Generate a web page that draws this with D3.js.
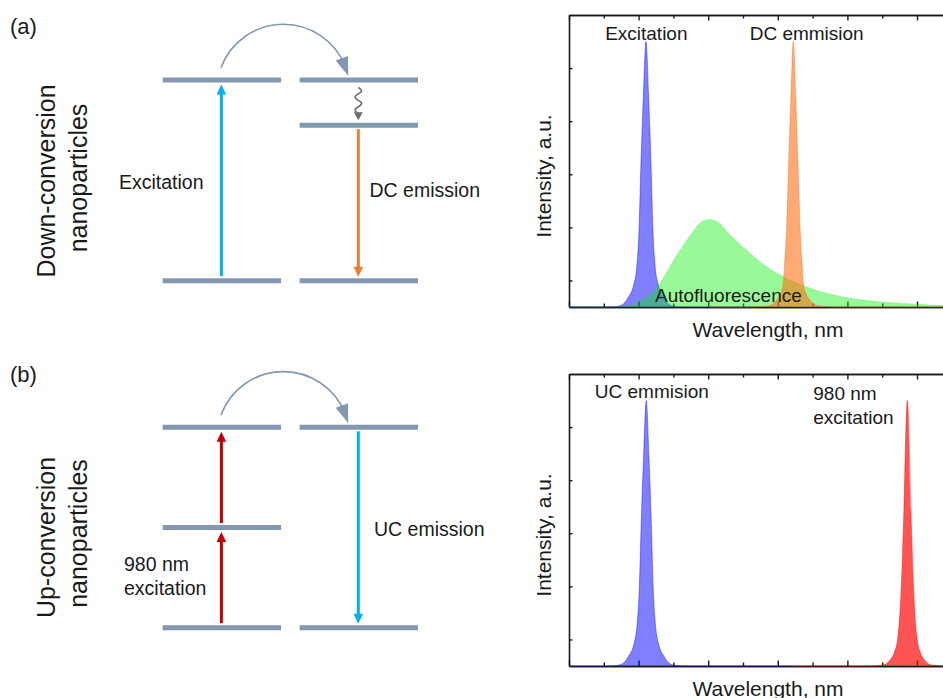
<!DOCTYPE html>
<html><head><meta charset="utf-8">
<script src="https://cdn.jsdelivr.net/npm/d3@7"></script>
<style>
html,body{margin:0;padding:0;background:#fff;}
svg{display:block;font-family:"Liberation Sans",Arial,sans-serif;}
</style></head><body>
<svg id="fig" width="943" height="698"></svg>
<script>
// ================= DATA =================
// Spectra: x in wavelength units (one major tick = 1 unit), y = intensity (a.u.)
// (a) Down-conversion panel
const excX  = [0, 0.55, 0.65, 0.75, 0.846, 0.936, 0.979, 1.006, 1.034, 1.068, 1.106, 1.144, 1.178, 1.206, 1.233, 1.276, 1.366, 1.46, 1.56, 1.7, 3.2];
const excY  = [0, 0, 0.005, 0.03, 0.17, 0.45, 0.83, 1.45, 2.71, 3.96, 5.0, 3.96, 2.71, 1.45, 0.83, 0.45, 0.17, 0.03, 0.005, 0, 0];
const dcX   = [2.0, 2.6, 2.89, 2.983, 3.043, 3.079, 3.098, 3.125, 3.156, 3.189, 3.223, 3.257, 3.29, 3.321, 3.348, 3.367, 3.403, 3.463, 3.553, 3.85, 6.0];
const dcY   = [0, 0, 0.03, 0.13, 0.26, 0.45, 0.83, 1.45, 2.71, 3.96, 5.0, 3.96, 2.71, 1.45, 0.83, 0.45, 0.26, 0.13, 0.03, 0, 0];
const autoX = [0, 0.5, 0.75, 0.9, 0.99, 1.164, 1.307, 1.45, 1.595, 1.763, 1.9, 2.016, 2.14, 2.29, 2.55, 2.84, 3.27, 3.70, 4.22, 4.76, 5.19, 5.6, 6.0];
const autoY = [0, 0, 0.01, 0.04, 0.1, 0.22, 0.45, 0.76, 1.07, 1.39, 1.6, 1.65, 1.6, 1.39, 1.07, 0.76, 0.45, 0.26, 0.13, 0.07, 0.04, 0.02, 0.015];
// (b) Up-conversion panel
const ucX   = [0, 0.55, 0.65, 0.75, 0.85, 0.94, 0.982, 1.01, 1.038, 1.072, 1.11, 1.148, 1.182, 1.21, 1.238, 1.28, 1.37, 1.47, 1.57, 1.7, 3.2];
const ucY   = [0, 0, 0.005, 0.03, 0.17, 0.45, 0.83, 1.45, 2.71, 3.96, 5.0, 3.96, 2.71, 1.45, 0.83, 0.45, 0.17, 0.03, 0.005, 0, 0];
const irX   = [3.2, 4.3, 4.51, 4.61, 4.67, 4.725, 4.772, 4.806, 4.862, 4.918, 4.952, 4.998, 5.052, 5.11, 5.21, 5.45, 6.0];
const irY   = [0, 0, 0.02, 0.11, 0.24, 0.55, 1.43, 2.69, 5.0, 2.69, 1.43, 0.55, 0.24, 0.11, 0.02, 0, 0];

// Axis ticks (no tick labels in the original)
const xMajorTicks = [0, 1, 2, 3, 4, 5, 6];
const xMinorTicks = [0.5, 1.5, 2.5, 3.5, 4.5, 5.5];
const yTicks      = [0.5, 1.5, 2.5, 3.5, 4.5];
const xDomain = [0, 6];
const yDomain = [0, 5.5];

// Energy levels of the schemes (relative energy 0..1) per column
const dcLevels = [["A", 1], ["A", 0], ["B", 1], ["B", 0.775], ["B", 0]];
const ucLevels = [["A", 1], ["A", 0.5], ["A", 0], ["B", 1], ["B", 0]];
// transitions: [column, fromEnergy, toEnergy, colour]
const dcArrows = [["A", 0, 1, "#00b0f0"], ["B", 0.775, 0, "#ed7d31"]];
const ucArrows = [["A", 0, 0.5, "#c00000"], ["A", 0.5, 1, "#c00000"], ["B", 1, 0, "#00b0f0"]];

// ================= DRAWING =================
const svg = d3.select("#fig");
svg.append("rect").attr("width", 943).attr("height", 698).attr("fill", "#fff");

const x = d3.scaleLinear().domain(xDomain).range([569, 986.6]);

function drawChart(yRange, series, labels) {
  const y = d3.scaleLinear().domain(yDomain).range(yRange);
  const g = svg.append("g");
  const style = sel => { sel.select(".domain").attr("stroke", "#1a1a1a").attr("stroke-width", 1.6);
                         sel.selectAll(".tick line").attr("stroke", "#1a1a1a").attr("stroke-width", 1.4); };
  g.append("g").attr("transform", `translate(0,${yRange[0]})`)
    .call(d3.axisBottom(x).tickValues(xMajorTicks).tickSize(-5.5).tickSizeOuter(0).tickFormat("")).call(style);
  g.append("g").attr("transform", `translate(0,${yRange[0]})`)
    .call(d3.axisBottom(x).tickValues(xMinorTicks).tickSize(-3.5).tickSizeOuter(0).tickFormat("")).call(style);
  g.append("g").attr("transform", `translate(0,${yRange[1]})`)
    .call(d3.axisTop(x).tickValues(xMajorTicks).tickSize(-5.5).tickSizeOuter(0).tickFormat("")).call(style);
  g.append("g").attr("transform", `translate(0,${yRange[1]})`)
    .call(d3.axisTop(x).tickValues(xMinorTicks).tickSize(-3.5).tickSizeOuter(0).tickFormat("")).call(style);
  g.append("g").attr("transform", `translate(${x(0)},0)`)
    .call(d3.axisLeft(y).tickValues(yTicks).tickSize(-3.5).tickSizeOuter(0).tickFormat("")).call(style);

  series.forEach(s => {
    const data = d3.zip(s.xs, s.ys);
    const area = d3.area().x(d => x(d[0])).y0(y(0)).y1(d => y(d[1])).curve(s.curve);
    const line = d3.line().x(d => x(d[0])).y(d => y(d[1])).curve(s.curve);
    g.append("path").datum(data).attr("d", area).attr("fill", s.fill).attr("fill-opacity", s.op);
    g.append("path").datum(data).attr("d", line).attr("fill", "none")
      .attr("stroke", s.fill).attr("stroke-width", 0.8).attr("stroke-opacity", s.lineOp);
  });
  labels.forEach(l => {
    g.append("text").attr("x", x(l.x)).attr("y", y(l.y)).attr("text-anchor", l.anchor)
      .attr("font-size", 19).attr("fill", "#1a1a1a").text(l.t);
  });
  const mid = (yRange[0] + yRange[1]) / 2;
  g.append("text").attr("transform", `translate(551,${mid + 15}) rotate(-90)`).attr("text-anchor", "middle")
    .attr("font-size", 21).attr("fill", "#1a1a1a").text("Intensity, a.u.");
  g.append("text").attr("x", 768).attr("y", yRange[0] + 30).attr("text-anchor", "middle")
    .attr("font-size", 21).attr("fill", "#1a1a1a").text("Wavelength, nm");
}

drawChart([307, 15], [
  {xs: excX, ys: excY, fill: "#0000ff", op: 0.5, lineOp: 0.5, curve: d3.curveMonotoneX},
  {xs: autoX, ys: autoY, fill: "#00f000", op: 0.4, lineOp: 0.25, curve: d3.curveCatmullRom},
  {xs: dcX, ys: dcY, fill: "#ff6a10", op: 0.58, lineOp: 0.5, curve: d3.curveMonotoneX}
], [
  {t: "Excitation", x: 1.111, y: 5.02, anchor: "middle"},
  {t: "DC emmision", x: 3.415, y: 5.02, anchor: "middle"},
  {t: "Autofluorescence", x: 2.29, y: 0.1, anchor: "middle"}
]);

drawChart([666, 374], [
  {xs: ucX, ys: ucY, fill: "#0000ff", op: 0.5, lineOp: 0.5, curve: d3.curveMonotoneX},
  {xs: irX, ys: irY, fill: "#ff0000", op: 0.67, lineOp: 0.5, curve: d3.curveMonotoneX}
], [
  {t: "UC emmision", x: 1.19, y: 5.04, anchor: "middle"},
  {t: "980 nm", x: 3.51, y: 5.01, anchor: "start"},
  {t: "excitation", x: 3.51, y: 4.56, anchor: "start"}
]);

// ---------- energy diagrams ----------
const col = d3.scaleBand().domain(["A", "B"]).range([162.7, 418]).paddingInner(0.1355);
const levelColor = "#8497b0";

function arrowHead(g, tipX, tipY, dx, dy, len, half, color) {
  const n = Math.hypot(dx, dy); dx /= n; dy /= n;
  const bx = tipX - dx * len, by = tipY - dy * len;
  const px = -dy, py = dx;
  g.append("path").attr("d", `M${tipX},${tipY}L${bx + px * half},${by + py * half}L${bx - px * half},${by - py * half}Z`)
    .attr("fill", color);
}

function drawDiagram(eRange, levels, arrows, wavy) {
  const e = d3.scaleLinear().domain([0, 1]).range(eRange);
  const g = svg.append("g");
  levels.forEach(([c, en]) => {
    g.append("line").attr("x1", col(c)).attr("x2", col(c) + col.bandwidth())
      .attr("y1", e(en)).attr("y2", e(en)).attr("stroke", levelColor).attr("stroke-width", 5);
  });
  arrows.forEach(([c, from, to, color]) => {
    const cx = col(c) + col.bandwidth() / 2 - 0.5;
    const up = to > from;
    const y0 = e(from) + (up ? -4.5 : 4);
    const tip = e(to) + (up ? 4.5 : -4);
    const len = 10;
    g.append("line").attr("x1", cx).attr("x2", cx).attr("y1", y0).attr("y2", tip + (up ? len - 1 : -len + 1))
      .attr("stroke", color).attr("stroke-width", 3);
    arrowHead(g, cx, tip, 0, up ? -1 : 1, len, 4.8, color);
  });
  if (wavy) {
    const cx = col("B") + col.bandwidth() / 2 - 0.5;
    const yA = e(wavy[0]) + 7.5, yB = e(wavy[1]) - 5;
    const pts = d3.range(0, 1.0001, 0.02).map(t => [cx + 3.2 * Math.sin(t * Math.PI * 4), yA + t * (yB - 7 - yA)]);
    g.append("path").attr("d", d3.line()(pts)).attr("fill", "none").attr("stroke", "#6e6e6e").attr("stroke-width", 1.6);
    arrowHead(g, cx, yB, 0, 1, 8, 4.5, "#6e6e6e");
  }
  const top = e(1);
  const ccx = col("A") + 120.7, ccy = top + 10.9, r = 66.6;
  const a0 = -159.6 * Math.PI / 180, aTip = -12.9 * Math.PI / 180, aBack = -27 * Math.PI / 180;
  const p = d3.path();
  p.arc(ccx, ccy, r, a0, -22 * Math.PI / 180, false);
  g.append("path").attr("d", p.toString()).attr("fill", "none").attr("stroke", levelColor).attr("stroke-width", 1.6);
  const tx = ccx + r * Math.cos(aTip), ty = ccy + r * Math.sin(aTip);
  const bx = ccx + r * Math.cos(aBack), by = ccy + r * Math.sin(aBack);
  arrowHead(g, tx, ty, tx - bx, ty - by, 19, 6.5, levelColor);
  return e;
}

drawDiagram([280.7, 80], dcLevels, dcArrows, [1, 0.775]);
drawDiagram([627.7, 427.3], ucLevels, ucArrows, null);

const txt = (xx, yy, t, size, anchor, rot) => {
  const el = svg.append("text").attr("font-size", size).attr("fill", "#1a1a1a").attr("text-anchor", anchor || "start").text(t);
  if (rot) el.attr("transform", `translate(${xx},${yy}) rotate(-90)`); else el.attr("x", xx).attr("y", yy);
};
txt(119, 188.5, "Excitation", 19.5);
txt(369.5, 196.5, "DC emission", 19.5);
txt(124, 570.5, "980 nm", 19.5);
txt(124, 595, "excitation", 19.5);
txt(374, 536, "UC emission", 19.5);
txt(55, 181, "Down-conversion", 25, "middle", true);
txt(87, 178, "nanoparticles", 25, "middle", true);
txt(55, 537.5, "Up-conversion", 25, "middle", true);
txt(87, 533.5, "nanoparticles", 25, "middle", true);
txt(10, 34, "(a)", 22);
txt(10, 382, "(b)", 22);
</script>
</body></html>
